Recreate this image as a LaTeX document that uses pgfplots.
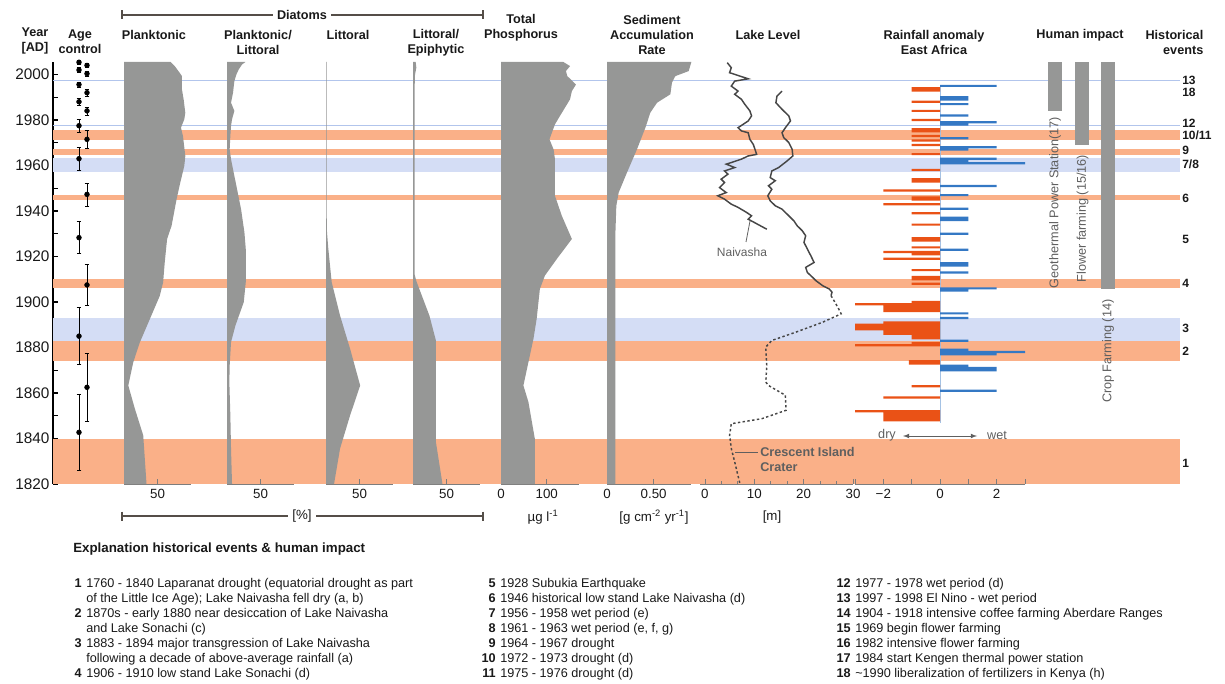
\documentclass[border=0pt]{standalone}
\usepackage{pgfplots}
\pgfplotsset{compat=1.18}
\usepackage{fontspec}
\setmainfont{Liberation Sans}
\definecolor{bandorange}{RGB}{250,176,136}
\definecolor{bandblue}{RGB}{212,221,245}
\definecolor{lineblue}{RGB}{178,197,236}
\definecolor{profgray}{RGB}{150,151,150}
\definecolor{rainred}{RGB}{234,82,22}
\definecolor{rainblue}{RGB}{52,120,196}
\definecolor{axgray}{RGB}{125,125,125}
\definecolor{lakegray}{RGB}{70,70,70}
\definecolor{brack}{RGB}{85,78,72}
\definecolor{txtgray}{RGB}{95,95,95}
\definecolor{txt}{RGB}{25,25,25}
\pgfplotsset{
  panel/.style={scale only axis, height=316.5pt, ymin=1820, ymax=2005.5,
    anchor=south west, axis y line=none, axis x line*=bottom, ytick=\empty,
    x axis line style={draw=axgray, line width=0.6pt, -},
    xtick style={draw=axgray, line width=0.6pt}, tick align=inside,
    major tick length=4pt, minor tick length=2.5pt,
    xticklabel style={font=\fontsize{10}{12}\selectfont, text=txt},
    clip=false},
}
\newcommand{\ttl}{\fontsize{9.5}{11.25}\selectfont\bfseries}
\newcommand{\lst}{\fontsize{9.5}{11}\selectfont}
\begin{document}
\begin{tikzpicture}[x=0.75pt,y=-0.75pt]
\useasboundingbox (0,0) rectangle (1225,684);
\coordinate (pBG) at (53,484);
\coordinate (pPL) at (124,484);
\coordinate (pPLL) at (227,484);
\coordinate (pLI) at (326,484);
\coordinate (pLE) at (413,484);
\coordinate (pTP) at (501,484);
\coordinate (pSA) at (607,484);
\coordinate (pLL) at (700,484);
\coordinate (pRA) at (855,484);

% ---------------- background axis: bands, year axis, age control, human impact
\begin{axis}[scale only axis, width=845.25pt, height=316.5pt, at={(pBG)}, anchor=south west,
  xmin=53, xmax=1180, ymin=1820, ymax=2005.5, clip=false,
  axis x line=none, axis y line*=left, y axis line style={black, line width=0.8pt, -},
  ytick={1820,1840,...,2000}, minor ytick={1830,1850,...,1990},
  yticklabels={1820,1840,1860,1880,1900,1920,1940,1960,1980,2000},
  tick align=inside, major tick length=4pt, minor tick length=3.5pt,
  ytick style={black, line width=0.8pt},
  yticklabel style={font=\fontsize{11.5}{13}\selectfont, text=txt, inner xsep=2.5pt}]
% bands
\addplot[fill=bandorange, draw=none] coordinates {(53,1820) (1180,1820) (1180,1840) (53,1840)} -- cycle;
\addplot[fill=bandorange, draw=none] coordinates {(53,1874) (1180,1874) (1180,1883) (53,1883)} -- cycle;
\addplot[fill=bandblue, draw=none] coordinates {(53,1883) (1180,1883) (1180,1892.8) (53,1892.8)} -- cycle;
\addplot[fill=bandorange, draw=none] coordinates {(53,1906.3) (1180,1906.3) (1180,1910) (53,1910)} -- cycle;
\addplot[fill=bandorange, draw=none] coordinates {(53,1944.8) (1180,1944.8) (1180,1946.9) (53,1946.9)} -- cycle;
\addplot[fill=bandblue, draw=none] coordinates {(53,1957.2) (1180,1957.2) (1180,1963.4) (53,1963.4)} -- cycle;
\addplot[fill=bandorange, draw=none] coordinates {(53,1964.6) (1180,1964.6) (1180,1967.4) (53,1967.4)} -- cycle;
\addplot[fill=bandorange, draw=none] coordinates {(53,1971.3) (1180,1971.3) (1180,1975.8) (53,1975.8)} -- cycle;
\addplot[lineblue, line width=0.8pt] coordinates {(53,1977.5) (1180,1977.5)};
\addplot[lineblue, line width=0.8pt] coordinates {(53,1997.5) (1180,1997.5)};
% age control
\addplot[black, only marks, mark=*, mark size=1.8pt,
  error bars/.cd, y dir=both, y explicit, error bar style={line width=0.5pt}]
  table[x=x, y=y, y error=e] {
x y e
79 2005.4 1
79 2002 1.2
79 1995.6 1.2
79 1988 1.5
79 1977.5 3
79 1963 5
79 1928.3 7
79 1885 12.5
79 1842.7 16.7
87 2004 1
87 2000.4 1.2
87 1992 1.5
87 1984 1.8
87 1971.5 4
87 1947.3 5
87 1907.5 9
87 1862.5 15
};
% human impact
\addplot[fill=profgray, draw=none] coordinates {(1048,1984) (1062,1984) (1062,2005.5) (1048,2005.5)} -- cycle;
\addplot[fill=profgray, draw=none] coordinates {(1075,1969) (1089,1969) (1089,2005.5) (1075,2005.5)} -- cycle;
\addplot[fill=profgray, draw=none] coordinates {(1101,1905.5) (1115,1905.5) (1115,2005.5) (1101,2005.5)} -- cycle;
\node[rotate=90, anchor=west, font=\fontsize{9.5}{11}\selectfont, text=txtgray, inner sep=0pt] at (axis cs:1055,1906) {Geothermal Power Station(17)};
\node[rotate=90, anchor=west, font=\fontsize{9.5}{11}\selectfont, text=txtgray, inner sep=0pt] at (axis cs:1082.5,1908.5) {Flower farming (15/16)};
\node[rotate=90, anchor=west, font=\fontsize{9.5}{11}\selectfont, text=txtgray, inner sep=0pt] at (axis cs:1108,1855.5) {Crop Farming (14)};
% historical events
\begin{scope}[every node/.style={anchor=west, font=\fontsize{9}{10}\selectfont\bfseries, text=txt, inner sep=0pt}]
\node at (axis cs:1182,1997.6) {13};
\node at (axis cs:1182,1992) {18};
\node at (axis cs:1182,1978.6) {12};
\node at (axis cs:1182,1973.4) {10/11};
\node at (axis cs:1182,1966.7) {9};
\node at (axis cs:1182,1960.6) {7/8};
\node at (axis cs:1182,1945.6) {6};
\node at (axis cs:1182,1927.7) {5};
\node at (axis cs:1182,1908.4) {4};
\node at (axis cs:1182,1888.2) {3};
\node at (axis cs:1182,1878.2) {2};
\node at (axis cs:1182,1829) {1};
\end{scope}
\end{axis}

% ---------------- Planktonic
\begin{axis}[panel, at={(pPL)}, width=50.25pt, xmin=0, xmax=100, xtick={50}, xticklabels={50}]
\addplot[fill=profgray, draw=none] coordinates {(0,2005.5)(69.7,2005.5)(75.7,2003.7)(83,2000.8)(86.5,1999.3)(86.5,1993.5)(89,1989.1)(91.5,1983.2)(90,1980.3)(85,1976.6)(88,1973)(91.5,1964.2)(90,1959.8)(84,1952.5)(78.5,1945.2)(71,1933.5)(64.3,1927.6)(60.8,1917.4)(58.4,1908.6)(53.4,1902.7)(38.6,1892.5)(23.7,1882.3)(13.8,1873.5)(6.4,1863.3)(16.3,1853)(28.7,1841.4)(33.6,1820)(0,1820)} -- cycle;
\end{axis}
% ---------------- Planktonic/Littoral
\begin{axis}[panel, at={(pPLL)}, width=50.25pt, xmin=0, xmax=100, xtick={50}, xticklabels={50}]
\addplot[fill=profgray, draw=none] coordinates {(0,2005.5)(27.5,2005.5)(22.5,2004.4)(17.5,2002.2)(14,2000)(11,1997.1)(9,1992)(6,1987.6)(11,1984)(7.5,1980.3)(6,1977.4)(5,1973)(4,1967.1)(6,1962.8)(10,1956.9)(15,1949.6)(21,1940.8)(26,1930.6)(28,1923.3)(28,1908.7)(25,1899.9)(12.5,1889.6)(6,1882.3)(4,1872.1)(3.5,1864.8)(5,1850.2)(6,1835.6)(7.5,1820)(0,1820)} -- cycle;
\end{axis}
% ---------------- Littoral
\begin{axis}[panel, at={(pLI)}, width=50.25pt, xmin=0, xmax=100, xtick={50}, xticklabels={50}]
\addplot[fill=profgray, draw=none] coordinates {(0,2005.5)(0.9,2005.5)(0.9,1940)(1.5,1930.6)(3.5,1923.3)(8.5,1908.7)(21,1894)(36,1879.4)(51,1863.3)(36,1850.2)(21,1835.6)(12,1820)(0,1820)} -- cycle;
\end{axis}
% ---------------- Littoral/Epiphytic
\begin{axis}[panel, at={(pLE)}, width=50.25pt, xmin=0, xmax=100, xtick={50}, xticklabels={50}]
\addplot[fill=profgray, draw=none] coordinates {(0,2005.5)(4,2005.5)(5,2003)(3,2000)(2.5,1995)(2.5,1912)(5,1909.2)(24.5,1894)(34,1883.3)(34,1838.8)(44,1820)(0,1820)} -- cycle;
\end{axis}
% ---------------- Total phosphorus
\begin{axis}[panel, at={(pTP)}, width=58.3pt, xmin=0, xmax=170, xtick={0,100}, xticklabels={0,100}]
\addplot[fill=profgray, draw=none] coordinates {(0,2005.5)(136.5,2005.5)(151,2003.7)(142,2001.5)(145,1999.3)(164,1995.6)(155,1992.7)(151,1989.1)(129,1981.8)(118,1978.1)(106,1971.5)(115,1967.1)(118,1962.8)(118,1946.7)(133,1937.9)(155,1927.7)(122,1918.9)(96,1911.6)(85,1905.7)(78,1892.6)(71,1883.8)(60,1873.6)(49,1863.3)(60,1856)(74,1839.9)(74,1820)(0,1820)} -- cycle;
\end{axis}
% ---------------- Sediment accumulation rate
\begin{axis}[panel, at={(pSA)}, width=63pt, xmin=0, xmax=0.9, xtick={0,0.5}, xticklabels={0,0.50}]
\addplot[fill=profgray, draw=none] coordinates {(0,2005.5)(0.904,2005.5)(0.875,2001.5)(0.732,1999.3)(0.696,1996.4)(0.679,1991.3)(0.536,1987.6)(0.464,1983.2)(0.411,1976.6)(0.321,1967.1)(0.214,1956.9)(0.125,1948.1)(0.1,1942.3)(0.089,1929.1)(0.089,1820)(0,1820)} -- cycle;
\end{axis}
% ---------------- Lake level
\begin{axis}[panel, at={(pLL)}, width=114.75pt, xmin=-1, xmax=30, xtick={0,10,20,30}, xticklabels={0,10,20,30}, minor x tick num=2]
\addplot[lakegray, line width=1.1pt] coordinates {(4.52,2005.2)(5.34,2003)(5.0,2000.8)(8.77,1998.1)(6.03,1997.1)(5.34,1994.9)(6.71,1992.7)(6.03,1991.3)(7.4,1989.1)(8.08,1986.9)(9.11,1984)(9.45,1981.8)(8.77,1979.6)(6.71,1976.6)(7.4,1975.2)(8.77,1974.4)(9.11,1971.5)(9.79,1969.3)(10.14,1967.1)(10.48,1964.9)(8.77,1964.2)(7.4,1962.8)(5.34,1961.3)(4.32,1960.6)(6.03,1959.1)(3.97,1957.6)(4.66,1956.2)(3.29,1954)(3.97,1952.5)(2.95,1950.3)(4.32,1948.1)(2.6,1946.7)(3.97,1945.2)(5.34,1943)(6.71,1941.6)(8.42,1939.4)(9.45,1937.9)(8.77,1936.4)(12.53,1932)};
\addplot[lakegray, line width=1.1pt] coordinates {(15.62,1992.7)(14.59,1990.5)(14.38,1987.6)(15.62,1984.7)(16.99,1981.8)(17.33,1979.6)(16.3,1976.6)(15.62,1974.4)(15.96,1972.3)(16.99,1970.1)(17.67,1967.1)(17.81,1964.2)(16.64,1962)(14.93,1959.1)(13.56,1957.6)(13.22,1954.7)(14.25,1953.3)(12.88,1951.1)(13.56,1949.6)(12.74,1946.7)(13.22,1944.5)(14.25,1942.3)(15.62,1940.8)(16.99,1937.9)(18.01,1935.7)(18.7,1933.5)(19.73,1931.3)(20.41,1929.1)(20.07,1926.2)(20.75,1923.3)(21.44,1920.4)(22.12,1917.4)(20.41,1915.2)(20.75,1913.0)(21.78,1910.9)(22.47,1909.4)(23.84,1907.2)(25.21,1905.7)(25.75,1904.3)(25.55,1902.8)};
\addplot[lakegray, line width=1.1pt, dash pattern=on 1.8pt off 1.8pt] coordinates {(25.55,1902.8)(26.92,1897.7)(27.6,1894.8)(23.84,1891.1)(18.36,1886.7)(13.56,1883.1)(12.33,1880.2)(12.53,1872.1)(12.33,1864.8)(12.88,1863.3)(16.3,1859)(16.44,1852.4)(11.51,1848.7)(5.34,1846.5)(5.0,1841.4)(5.34,1835.6)(6.03,1829.7)(7.05,1820.5)};
\end{axis}
% ---------------- Rainfall anomaly
\begin{axis}[panel, at={(pRA)}, width=127.5pt, xmin=-3, xmax=3, xtick={-3,-2,-1,0,1,2,3}, xticklabels={,−2,,0,,2,}]
\addplot[rainblue!45, line width=0.6pt] coordinates {(0,1847)(0,1995.5)};
\addplot[xbar, bar width=0.95, bar shift=0pt, fill=rainred, draw=none] coordinates {
(-1,1994)(-1,1993)(-1,1988)(-1,1984)(-1,1980)(-1,1976)(-1,1975)(-1,1973)(-1,1971)(-1,1969)(-1,1965)(-1,1958)(-1,1954)(-1,1953)(-2,1949)(-1,1946)(-1,1945)(-2,1943)(-1,1939)(-1,1934)(-1,1928)(-1,1927)(-1,1924)(-2,1922)(-1,1921)(-2,1919)(-1,1914)(-1,1911)(-1,1910)(-1,1908)(-1,1900)(-3,1899)(-2,1898)(-2,1897)(-2,1896)(-2,1891)(-3,1890)(-3,1889)(-3,1888)(-2,1887)(-2,1886)(-1,1885)(-1,1884)(-1,1882)(-3,1881)(-1.1,1874)(-1.1,1873)(-1,1863)(-2,1858)(-3,1852)(-2,1851)(-2,1850)(-2,1849)(-2,1848)};
\addplot[xbar, bar width=0.95, bar shift=0pt, fill=rainblue, draw=none] coordinates {
(2,1995)(1,1990)(1,1989)(1,1987)(1,1982)(2,1979)(1,1978)(1,1972)(2,1968)(1,1967)(2,1963)(1,1962)(3,1961)(2,1951)(1,1947)(1,1941)(1,1937)(1,1936)(1,1930)(1,1923)(1,1917)(1,1916)(1,1913)(2,1906)(1,1905)(1,1895)(1,1893)(1,1883)(1,1879)(3,1878)(2,1877)(1,1872)(2,1871)(2,1870)(2,1861)};
\end{axis}

% ---------------- annotations (picture coordinates in px)
\draw[txtgray, line width=0.6pt] (750,221) -- (746,242);
\node[font=\fontsize{9}{10}\selectfont, text=txtgray] at (742,252) {Naivasha};
\draw[txtgray, line width=0.6pt] (735,452) -- (758,452);
\node[anchor=west, align=left, font=\fontsize{9.5}{11.25}\selectfont\bfseries, text=txtgray, inner sep=0pt] at (760,459.5) {Crescent Island\\Crater};
\node[font=\fontsize{9.5}{11}\selectfont, text=txtgray] at (887,435) {dry};
\draw[txtgray, line width=0.6pt, <->, >=latex] (903,436) -- (977,436);
\node[font=\fontsize{9.5}{11}\selectfont, text=txtgray] at (997,435) {wet};

% titles
\node[font=\ttl, align=center, text=txt] at (35,40.5) {Year\\{[AD]}};
\node[font=\ttl, align=center, text=txt] at (80,41.5) {Age\\control};
\node[font=\ttl, align=center, text=txt] at (154,35) {Planktonic};
\node[font=\ttl, align=center, text=txt] at (258,42.5) {Planktonic/\\Littoral};
\node[font=\ttl, align=center, text=txt] at (348,35) {Littoral};
\node[font=\ttl, align=center, text=txt] at (436,42.5) {Littoral/\\Epiphytic};
\node[font=\ttl, align=center, text=txt] at (521,27.5) {Total\\Phosphorus};
\node[font=\ttl, align=center, text=txt] at (652,35) {Sediment\\Accumulation\\Rate};
\node[font=\ttl, align=center, text=txt] at (768,35) {Lake Level};
\node[font=\ttl, align=center, text=txt] at (934,42.5) {Rainfall anomaly\\East Africa};
\node[font=\ttl, align=center, text=txt] at (1080,35) {Human impact};
\node[font=\ttl, align=right, text=txt, anchor=east] at (1208,42.5) {Historical\\events};
% diatoms bracket
\draw[brack, line width=1.2pt] (122,15) -- (483,15);
\draw[brack, line width=1.2pt] (122,10.5) -- (122,19.5);
\draw[brack, line width=1.2pt] (483,10.5) -- (483,19.5);
\node[font=\ttl, fill=white, inner xsep=3pt, inner ysep=1pt, text=txt] at (302,15) {Diatoms};
% [%] bracket
\draw[brack, line width=1.2pt] (122,516) -- (483,516);
\draw[brack, line width=1.2pt] (122,511.5) -- (122,520.5);
\draw[brack, line width=1.2pt] (483,511.5) -- (483,520.5);
\node[font=\fontsize{10}{12}\selectfont, fill=white, inner xsep=3pt, inner ysep=1pt, text=txt] at (302,516) {[\%]};
% units
\node[font=\fontsize{10}{12}\selectfont, text=txt] at (543,517) {µg l\textsuperscript{-1}};
\node[font=\fontsize{10}{12}\selectfont, text=txt] at (654,517) {[g cm\textsuperscript{-2} yr\textsuperscript{-1}]};
\node[font=\fontsize{10}{12}\selectfont, text=txt] at (772,517) {[m]};

% explanation
\node[anchor=base west, font=\fontsize{10}{12}\selectfont\bfseries, text=txt, inner sep=0pt] at (73,552) {Explanation historical events \& human impact};
\begin{scope}[every node/.style={inner sep=0pt, text=txt, font=\lst}]
\node[anchor=base east, font=\lst\bfseries] at (82,587) {1};
\node[anchor=base west] at (86,587) {1760 - 1840 Laparanat drought (equatorial drought as part};
\node[anchor=base west] at (86,602) {of the Little Ice Age); Lake Naivasha fell dry (a, b)};
\node[anchor=base east, font=\lst\bfseries] at (82,617) {2};
\node[anchor=base west] at (86,617) {1870s - early 1880 near desiccation of Lake Naivasha};
\node[anchor=base west] at (86,632) {and Lake Sonachi (c)};
\node[anchor=base east, font=\lst\bfseries] at (82,647) {3};
\node[anchor=base west] at (86,647) {1883 - 1894 major transgression of Lake Naivasha};
\node[anchor=base west] at (86,662) {following a decade of above-average rainfall (a)};
\node[anchor=base east, font=\lst\bfseries] at (82,677) {4};
\node[anchor=base west] at (86,677) {1906 - 1910 low stand Lake Sonachi (d)};
% col 2
\node[anchor=base east, font=\lst\bfseries] at (496,587) {5};
\node[anchor=base west] at (500,587) {1928 Subukia Earthquake};
\node[anchor=base east, font=\lst\bfseries] at (496,602) {6};
\node[anchor=base west] at (500,602) {1946 historical low stand Lake Naivasha (d)};
\node[anchor=base east, font=\lst\bfseries] at (496,617) {7};
\node[anchor=base west] at (500,617) {1956 - 1958 wet period (e)};
\node[anchor=base east, font=\lst\bfseries] at (496,632) {8};
\node[anchor=base west] at (500,632) {1961 - 1963 wet period (e, f, g)};
\node[anchor=base east, font=\lst\bfseries] at (496,647) {9};
\node[anchor=base west] at (500,647) {1964 - 1967 drought};
\node[anchor=base east, font=\lst\bfseries] at (496,662) {10};
\node[anchor=base west] at (500,662) {1972 - 1973 drought (d)};
\node[anchor=base east, font=\lst\bfseries] at (496,677) {11};
\node[anchor=base west] at (500,677) {1975 - 1976 drought (d)};
% col 3
\node[anchor=base east, font=\lst\bfseries] at (851,587) {12};
\node[anchor=base west] at (855,587) {1977 - 1978 wet period (d)};
\node[anchor=base east, font=\lst\bfseries] at (851,602) {13};
\node[anchor=base west] at (855,602) {1997 - 1998 El Nino - wet period};
\node[anchor=base east, font=\lst\bfseries] at (851,617) {14};
\node[anchor=base west] at (855,617) {1904 - 1918 intensive coffee farming Aberdare Ranges};
\node[anchor=base east, font=\lst\bfseries] at (851,632) {15};
\node[anchor=base west] at (855,632) {1969 begin flower farming};
\node[anchor=base east, font=\lst\bfseries] at (851,647) {16};
\node[anchor=base west] at (855,647) {1982 intensive flower farming};
\node[anchor=base east, font=\lst\bfseries] at (851,662) {17};
\node[anchor=base west] at (855,662) {1984 start Kengen thermal power station};
\node[anchor=base east, font=\lst\bfseries] at (851,677) {18};
\node[anchor=base west] at (855,677) {\textasciitilde1990 liberalization of fertilizers in Kenya (h)};
\end{scope}
\end{tikzpicture}
\end{document}
